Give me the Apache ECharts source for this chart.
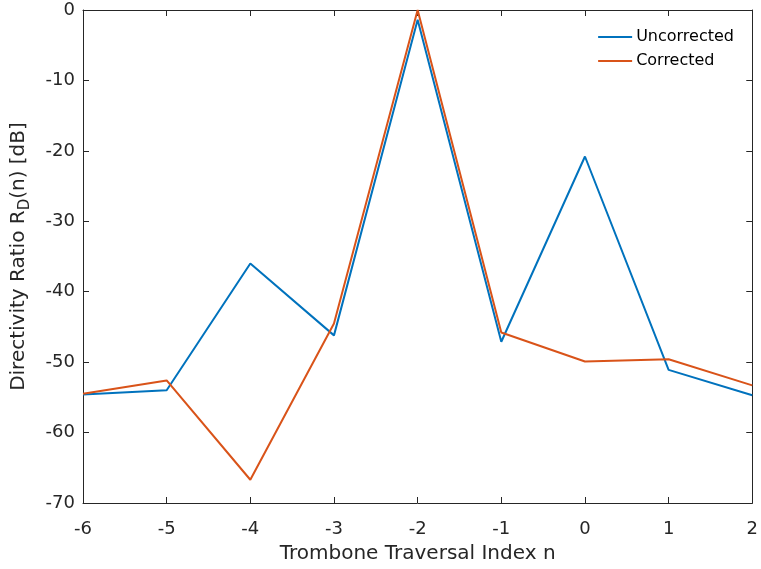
<!DOCTYPE html>
<html>
<head>
<meta charset="utf-8">
<script src="https://cdn.jsdelivr.net/npm/echarts@6/dist/echarts.min.js"></script>
<style>
  html, body { margin: 0; padding: 0; background: #fff; }
  #chart { width: 761px; height: 569px; }
</style>
</head>
<body>
<div id="chart"></div>
<script>
var indexN = [-6, -5, -4, -3, -2, -1, 0, 1, 2];
var uncorrected = [-54.6, -54.0, -36.0, -46.2, -1.4, -47.1, -20.8, -51.1, -54.7];
var corrected = [-54.5, -52.6, -66.7, -44.5, 0, -45.8, -49.9, -49.6, -53.3];

var axisColor = '#262626';
var font = 'DejaVu Sans, sans-serif';

function pairs(xs, ys) {
  var out = [];
  for (var i = 0; i < xs.length; i++) {
    out.push([xs[i], ys[i]]);
  }
  return out;
}

var chart = echarts.init(document.getElementById('chart'));

var baseX = {
  type: 'value',
  min: -6,
  max: 2,
  interval: 1,
  splitLine: { show: false },
  axisLine: { show: true, onZero: false, lineStyle: { color: axisColor, width: 1 } },
  axisTick: { show: true, inside: true, length: 6, lineStyle: { color: axisColor } }
};
var baseY = {
  type: 'value',
  min: -70,
  max: 0,
  interval: 10,
  splitLine: { show: false },
  axisLine: { show: true, onZero: false, lineStyle: { color: axisColor, width: 1 } },
  axisTick: { show: true, inside: true, length: 6, lineStyle: { color: axisColor } }
};

var option = {
  backgroundColor: '#fff',
  animation: false,
  grid: { left: 83, right: 7, top: 10, bottom: 64, containLabel: false },
  legend: {
    right: 22,
    top: 24,
    orient: 'vertical',
    itemWidth: 34,
    itemHeight: 2,
    itemGap: 8,
    icon: 'rect',
    textStyle: { fontFamily: font, fontSize: 16, color: '#000', padding: [0, 0, 0, -1] },
    data: ['Uncorrected', 'Corrected']
  },
  xAxis: [
    Object.assign({}, baseX, {
      position: 'bottom',
      name: 'Trombone Traversal Index n',
      nameLocation: 'middle',
      nameGap: 41,
      nameTextStyle: { fontFamily: font, fontSize: 20, color: axisColor },
      axisLabel: { fontFamily: font, fontSize: 18, color: axisColor, margin: 17 }
    }),
    Object.assign({}, baseX, {
      position: 'top',
      axisLabel: { show: false }
    })
  ],
  yAxis: [
    Object.assign({}, baseY, {
      position: 'left',
      name: '{a|Directivity Ratio R}{sub|D}{a|(n) [dB]}',
      nameLocation: 'middle',
      nameGap: 50,
      nameTextStyle: {
        fontFamily: font, fontSize: 20, color: axisColor,
        rich: {
          a: { fontFamily: font, fontSize: 20, color: axisColor },
          sub: { fontFamily: font, fontSize: 15, color: axisColor, padding: [14, 0, 0, 0] }
        }
      },
      axisLabel: { fontFamily: font, fontSize: 18, color: axisColor, margin: 8 }
    }),
    Object.assign({}, baseY, {
      position: 'right',
      axisLabel: { show: false }
    })
  ],
  series: [
    {
      name: 'Uncorrected',
      type: 'line',
      data: pairs(indexN, uncorrected),
      showSymbol: false,
      symbol: 'none',
      color: '#0072BD',
      lineStyle: { width: 2, color: '#0072BD' },
      xAxisIndex: 0,
      yAxisIndex: 0
    },
    {
      name: 'Corrected',
      type: 'line',
      data: pairs(indexN, corrected),
      showSymbol: false,
      symbol: 'none',
      color: '#D95319',
      lineStyle: { width: 2, color: '#D95319' },
      xAxisIndex: 0,
      yAxisIndex: 0
    }
  ]
};

chart.setOption(option);
</script>
</body>
</html>
